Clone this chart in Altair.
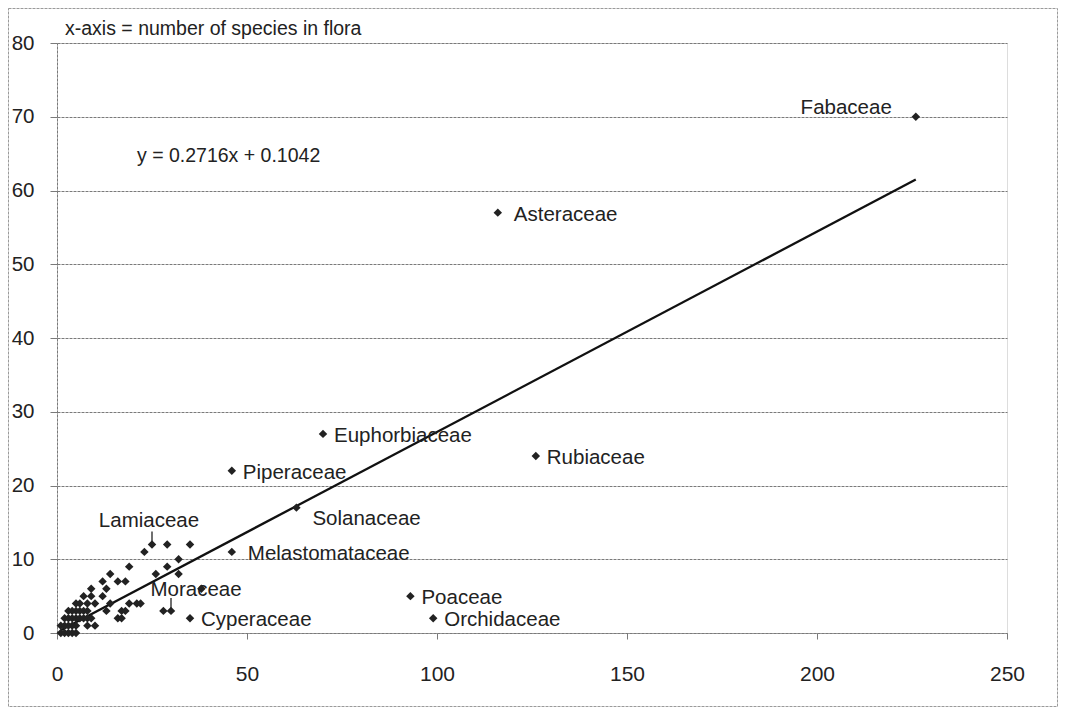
import altair as alt
import pandas as pd

# ---- data ----
named = ["Fabaceae", "Asteraceae", "Rubiaceae", "Euphorbiaceae", "Piperaceae",
         "Solanaceae", "Melastomataceae", "Poaceae", "Orchidaceae", "Cyperaceae",
         "Moraceae", "Lamiaceae"]
named_x = [226, 116, 126, 70, 46, 63, 46, 93, 99, 35, 30, 25]
named_y = [70, 57, 24, 27, 22, 17, 11, 5, 2, 2, 3, 12]

other_x = [23, 29, 35, 32, 29, 26, 32, 19, 14, 12, 16, 18, 9, 13, 38,
           7, 9, 12, 5, 6, 8, 10, 14, 19, 21, 22, 17, 18, 28, 16, 17,
           10, 8, 13,
           3, 4, 5, 6, 7, 8,
           2, 3, 4, 5, 6, 7, 8, 9,
           1, 2, 3, 4, 5,
           1, 2, 3, 4, 5]
other_y = [11, 12, 12, 10, 9, 8, 8, 9, 8, 7, 7, 7, 6, 6, 6,
           5, 5, 5, 4, 4, 4, 4, 4, 4, 4, 4, 3, 3, 3, 2, 2,
           1, 1, 3,
           3, 3, 3, 3, 3, 3,
           2, 2, 2, 2, 2, 2, 2, 2,
           1, 1, 1, 1, 1,
           0, 0, 0, 0, 0]

slope = 0.2716
intercept = 0.1042
equation = "y = 0.2716x + 0.1042"
note = "x-axis = number of species in flora"

x_ticks = [0, 50, 100, 150, 200, 250]
y_ticks = [0, 10, 20, 30, 40, 50, 60, 70, 80]

FONT = "Liberation Sans"
INK = "#222222"
GRID = "#7a7a7a"

pts = pd.DataFrame({
    "x": named_x + other_x,
    "y": named_y + other_y,
    "name": named + [""] * len(other_x),
})
lab = pd.DataFrame({"x": named_x, "y": named_y, "name": named})
line_df = pd.DataFrame({"x": [min(pts["x"]), max(pts["x"])]})

xs = alt.Scale(domain=[0, 250], nice=False)
ys = alt.Scale(domain=[0, 80], nice=False)

x_axis = alt.Axis(values=x_ticks, grid=False, title=None, labelFont=FONT,
                  labelFontSize=21, labelColor=INK, tickSize=6, tickColor=GRID,
                  domainColor=GRID, labelPadding=24, domainDash=[3, 1],
                  labelFlush=False)
y_axis = alt.Axis(values=y_ticks, grid=True, gridColor=GRID, gridDash=[3, 1],
                  title=None, labelFont=FONT, labelFontSize=20.5, labelColor=INK,
                  tickSize=7, tickColor=GRID, domainColor=GRID, domainDash=[3, 1],
                  labelPadding=16, labelFlush=False)

base = alt.Chart(pts).encode(
    x=alt.X("x:Q", scale=xs, axis=x_axis),
    y=alt.Y("y:Q", scale=ys, axis=y_axis),
)

points = base.mark_point(shape="diamond", filled=True, size=72, color=INK, opacity=1)

reg = alt.Chart(line_df).transform_calculate(
    y=f"{slope} * datum.x + {intercept}"
).mark_line(color="#111111", strokeWidth=2.3).encode(
    x=alt.X("x:Q", scale=xs), y=alt.Y("y:Q", scale=ys)
)

lab_base = alt.Chart(lab).encode(
    x=alt.X("x:Q", scale=xs), y=alt.Y("y:Q", scale=ys), text="name:N"
)
txt = dict(font=FONT, fontSize=20.5, color=INK)

def grp(names):
    return alt.FieldOneOfPredicate(field="name", oneOf=names)

right_a = lab_base.transform_filter(
    grp(["Rubiaceae", "Euphorbiaceae", "Piperaceae", "Poaceae", "Orchidaceae", "Cyperaceae"])
).mark_text(align="left", baseline="middle", dx=11, dy=2, **txt)
right_b = lab_base.transform_filter(
    grp(["Asteraceae", "Melastomataceae"])
).mark_text(align="left", baseline="middle", dx=16, dy=2, **txt)
below = lab_base.transform_filter(grp(["Solanaceae"])).mark_text(
    align="left", baseline="middle", dx=16, dy=11, **txt)
left = lab_base.transform_filter(grp(["Fabaceae"])).mark_text(
    align="right", baseline="alphabetic", dx=-24, dy=-3, **txt)
above_l = lab_base.transform_filter(grp(["Lamiaceae"])).mark_text(
    align="center", baseline="alphabetic", dx=-3, dy=-18, **txt)
above_m = lab_base.transform_filter(grp(["Moraceae"])).mark_text(
    align="center", baseline="alphabetic", dx=25, dy=-15, **txt)

leaders = alt.Chart(lab).transform_filter(grp(["Lamiaceae", "Moraceae"])).transform_calculate(
    y1="datum.y + 0.3", y2="datum.y + 1.75"
).mark_rule(color=INK, strokeWidth=1.3).encode(
    x=alt.X("x:Q", scale=xs), y=alt.Y("y1:Q", scale=ys), y2="y2:Q"
)

eq_text = alt.Chart(pd.DataFrame({"t": [equation]})).mark_text(
    align="left", baseline="alphabetic", font=FONT, fontSize=19.5, color=INK
).encode(x=alt.value(80), y=alt.value(119), text="t:N")

note_text = alt.Chart(pd.DataFrame({"t": [note]})).mark_text(
    align="left", baseline="alphabetic", font=FONT, fontSize=19.5, color=INK
).encode(x=alt.value(8), y=alt.value(-8), text="t:N")

frame = alt.Chart(pd.DataFrame({"t": [0]})).mark_rect(
    fill=None, stroke="#9a9a9a", strokeWidth=1, strokeDash=[3, 1]
).encode(x=alt.value(-48.5), x2=alt.value(1000.5), y=alt.value(-34.5), y2=alt.value(663.5))

chart = alt.layer(
    frame, reg, points, leaders, right_a, right_b, below, left, above_l, above_m,
    eq_text, note_text
).properties(
    width=950, height=590,
    autosize=alt.AutoSizeParams(type="none"),
    padding={"left": 49, "top": 35, "right": 51, "bottom": 74},
).configure_view(
    stroke=GRID, strokeWidth=1, strokeDash=[3, 1]
).configure(background="white")

chart.save("out.html", embed_options={"renderer": "svg", "actions": False})
